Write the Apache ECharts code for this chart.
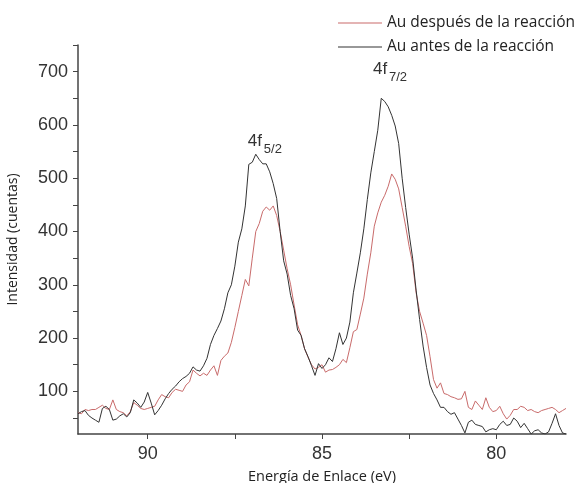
<!DOCTYPE html>
<html>
<head>
<meta charset="utf-8">
<script src="https://cdn.jsdelivr.net/npm/echarts@6/dist/echarts.min.js"></script>
<style>
  html, body { margin: 0; padding: 0; background: #fff; }
  #chart { width: 574px; height: 483px; }
</style>
</head>
<body>
<div id="chart"></div>
<script>
// energias de enlace (eV), de 92 a 78 cada 0.1
var energias = [
    92.0, 91.9, 91.8, 91.7, 91.6, 91.5, 91.4, 91.3, 91.2, 91.1,
    91.0, 90.9, 90.8, 90.7, 90.6, 90.5, 90.4, 90.3, 90.2, 90.1,
    90.0, 89.9, 89.8, 89.7, 89.6, 89.5, 89.4, 89.3, 89.2, 89.1,
    89.0, 88.9, 88.8, 88.7, 88.6, 88.5, 88.4, 88.3, 88.2, 88.1,
    88.0, 87.9, 87.8, 87.7, 87.6, 87.5, 87.4, 87.3, 87.2, 87.1,
    87.0, 86.9, 86.8, 86.7, 86.6, 86.5, 86.4, 86.3, 86.2, 86.1,
    86.0, 85.9, 85.8, 85.7, 85.6, 85.5, 85.4, 85.3, 85.2, 85.1,
    85.0, 84.9, 84.8, 84.7, 84.6, 84.5, 84.4, 84.3, 84.2, 84.1,
    84.0, 83.9, 83.8, 83.7, 83.6, 83.5, 83.4, 83.3, 83.2, 83.1,
    83.0, 82.9, 82.8, 82.7, 82.6, 82.5, 82.4, 82.3, 82.2, 82.1,
    82.0, 81.9, 81.8, 81.7, 81.6, 81.5, 81.4, 81.3, 81.2, 81.1,
    81.0, 80.9, 80.8, 80.7, 80.6, 80.5, 80.4, 80.3, 80.2, 80.1,
    80.0, 79.9, 79.8, 79.7, 79.6, 79.5, 79.4, 79.3, 79.2, 79.1,
    79.0, 78.9, 78.8, 78.7, 78.6, 78.5, 78.4, 78.3, 78.2, 78.1,
    78.0
];

// Au despues de la reaccion (rojo)
var despues = [
    60, 58, 66, 64, 66, 66, 70, 74, 68, 66,
    84, 66, 62, 60, 54, 62, 79, 74, 68, 66,
    68, 70, 72, 84, 94, 90, 88, 98, 104, 102,
    100, 112, 118, 140, 134, 129, 134, 130, 140, 148,
    130, 158, 166, 172, 192, 220, 250, 280, 310, 298,
    350, 400, 415, 438, 446, 440, 448, 430, 400, 365,
    330, 300, 262, 225, 205, 180, 164, 150, 142, 145,
    150, 136, 140, 141, 145, 150, 160, 154, 182, 212,
    216, 245, 275, 320, 360, 410, 435, 455, 468, 485,
    508, 498, 480, 445, 410, 372, 340, 285, 250, 228,
    205, 165, 122, 106, 116, 96, 94, 90, 88, 85,
    86, 100, 70, 66, 82, 74, 66, 88, 70, 62,
    64, 72, 58, 48, 55, 66, 66, 72, 70, 64,
    66, 62, 60, 64, 66, 68, 70, 66, 60, 64,
    68
];

// Au antes de la reaccion (negro)
var antes = [
    58, 62, 64, 55, 50, 46, 42, 68, 72, 66,
    46, 48, 54, 58, 52, 60, 84, 78, 70, 80,
    98, 78, 56, 64, 74, 86, 96, 104, 110, 118,
    124, 128, 134, 146, 140, 138, 148, 162, 188, 205,
    218, 232, 255, 285, 300, 335, 380, 405, 448, 526,
    530, 545, 535, 527, 527, 512, 490, 462, 400, 345,
    320, 280, 255, 215, 205, 180, 165, 148, 130, 152,
    143, 150, 163, 156, 180, 210, 188, 200, 230, 285,
    322, 360, 405, 460, 510, 550, 590, 650, 644, 634,
    618, 598, 565, 500, 445, 395, 350, 290, 235, 185,
    145, 112, 96, 84, 70, 70, 62, 57, 60, 48,
    36, 22, 42, 46, 38, 36, 34, 24, 28, 30,
    28, 38, 44, 36, 38, 50, 44, 32, 40, 30,
    20, 26, 28, 22, 20, 24, 40, 58, 36, 22,
    20
];

var xLabels = [80, 85, 90];
var xTicks = [80, 82.5, 85, 87.5, 90];
var yLabels = [100, 200, 300, 400, 500, 600, 700];
var yTicks = [50, 100, 150, 200, 250, 300, 350, 400, 450, 500, 550, 600, 650, 700, 750];

// etiquetas de los picos: [energia, intensidad]
var picos = [
    { sub: '5/2', pos: [86.87, 545] },
    { sub: '7/2', pos: [83.28, 680] }
];

function pares(ys) {
    var out = [];
    for (var i = 0; i < energias.length; i++) {
        out.push([energias[i], ys[i]]);
    }
    return out;
}

var myChart = echarts.init(document.getElementById('chart'));

var option = {
    animation: false,
    backgroundColor: '#fff',
    grid: {
        left: 78,
        right: 8,
        top: 45,
        bottom: 49,
        containLabel: false,
        outerBoundsMode: 'none'
    },
    legend: {
        orient: 'vertical',
        left: 333,
        top: 10,
        icon: 'rect',
        itemWidth: 44,
        itemHeight: 1,
        itemGap: 8,
        textStyle: {
            fontFamily: 'Open Sans',
            fontSize: 15.5,
            color: '#222'
        },
        data: ['Au después de la reacción', 'Au antes de la reacción']
    },
    xAxis: {
        type: 'value',
        min: 78,
        max: 92,
        inverse: true,
        name: 'Energía de Enlace (eV)',
        nameLocation: 'middle',
        nameGap: 35,
        nameTextStyle: {
            fontFamily: 'Open Sans',
            fontSize: 14.5,
            color: '#222'
        },
        axisLine: { lineStyle: { color: '#444', width: 1.5 } },
        axisTick: {
            customValues: xTicks,
            length: 5,
            lineStyle: { color: '#444' }
        },
        axisLabel: {
            customValues: xLabels,
            margin: 11,
            fontFamily: 'Liberation Sans',
            fontSize: 18,
            color: '#333'
        },
        splitLine: { show: false }
    },
    yAxis: {
        type: 'value',
        min: 20,
        max: 750,
        name: 'Intensidad (cuentas)',
        nameLocation: 'middle',
        nameGap: 58,
        nameTextStyle: {
            fontFamily: 'Open Sans',
            fontSize: 14,
            color: '#222'
        },
        axisLine: { show: true, lineStyle: { color: '#444', width: 1.5 } },
        axisTick: {
            show: true,
            customValues: yTicks,
            length: 5,
            lineStyle: { color: '#444' }
        },
        axisLabel: {
            customValues: yLabels,
            margin: 10,
            fontFamily: 'Liberation Sans',
            fontSize: 18,
            color: '#333'
        },
        splitLine: { show: false }
    },
    series: [{
        name: 'Au después de la reacción',
        type: 'line',
        symbol: 'none',
        data: pares(despues),
        lineStyle: { color: '#c96b6b', width: 1 },
        itemStyle: { color: '#c96b6b' },
        z: 2
    }, {
        name: 'Au antes de la reacción',
        type: 'line',
        symbol: 'none',
        data: pares(antes),
        lineStyle: { color: '#333', width: 1 },
        itemStyle: { color: '#333' },
        z: 3
    }]
};

myChart.setOption(option);

// etiquetas 4f con subindice, ubicadas sobre cada pico
var graficos = [];
picos.forEach(function(p) {
    var px = myChart.convertToPixel({ gridIndex: 0 }, p.pos);
    graficos.push({
        type: 'text',
        x: px[0] - 9,
        y: px[1] - 4,
        style: {
            text: '4f',
            font: '17px "Liberation Sans"',
            fill: '#333',
            align: 'left',
            verticalAlign: 'bottom'
        }
    });
    graficos.push({
        type: 'text',
        x: px[0] + 7,
        y: px[1] + 2,
        style: {
            text: p.sub,
            font: '13px "Liberation Sans"',
            fill: '#333',
            align: 'left',
            verticalAlign: 'bottom'
        }
    });
});
myChart.setOption({ graphic: graficos });
</script>
</body>
</html>
